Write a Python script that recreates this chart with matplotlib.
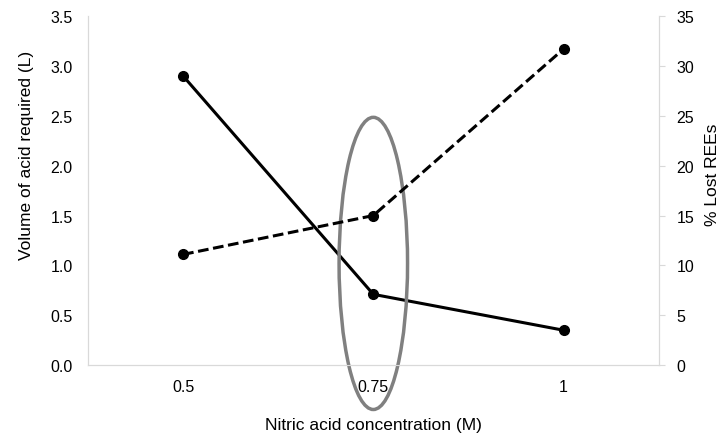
import matplotlib.pyplot as plt
from matplotlib.patches import Ellipse

plt.rcParams['font.family'] = ['Liberation Sans', 'DejaVu Sans']
plt.rcParams['font.size'] = 11.5

concentrations = ['0.5', '0.75', '1']
acid_volume = [2.90, 0.71, 0.35]       # L, left axis
lost_rees = [11.1, 15.0, 31.7]         # %, right axis

fig = plt.figure(figsize=(7.27, 4.39), dpi=100)
ax = fig.add_axes([0.121, 0.166, 0.785, 0.795])
ax2 = ax.twinx()

x = range(len(concentrations))
ax.plot(x, acid_volume, color='black', lw=2.2, marker='o', ms=7, zorder=3)
ax2.plot(x, lost_rees, color='black', lw=2.2, ls=(0, (3.5, 1.5)), marker='o', ms=7)

ax.set_xlim(-0.5, 2.5)
ax.set_ylim(0, 3.5)
ax2.set_ylim(0, 35)
ax.set_xticks(list(x))
ax.set_xticklabels(concentrations)
ax.set_yticks([i * 0.5 for i in range(8)])
ax.set_yticklabels(['%.1f' % (i * 0.5) for i in range(8)])
ax2.set_yticks(range(0, 36, 5))

grey = '#d9d9d9'
for a in (ax, ax2):
    a.spines['top'].set_visible(False)
    for s in ('left', 'right', 'bottom'):
        a.spines[s].set_color(grey)
ax.tick_params(axis='x', length=0, pad=10)
ax.tick_params(axis='y', length=0, pad=11)
ax2.tick_params(axis='y', length=4, color=grey, pad=9)

ax.set_xlabel('Nitric acid concentration (M)', fontsize=12.5)
ax.xaxis.set_label_coords(0.5, -0.15)
ax.set_ylabel('Volume of acid required (L)', fontsize=12.5, va='center')
ax.yaxis.set_label_coords(-0.107, 0.605)
ax2.set_ylabel('% Lost REEs', fontsize=12.5, va='center', rotation=90)
ax2.yaxis.set_label_coords(1.095, 0.547)

# highlight around the 0.75 M point
ell = Ellipse((1.0, 1.02), 0.36, 2.93, fill=False, edgecolor='#808080',
              lw=2.5, clip_on=False, zorder=5)
ax.add_patch(ell)

fig.savefig('out.png', dpi=100)
